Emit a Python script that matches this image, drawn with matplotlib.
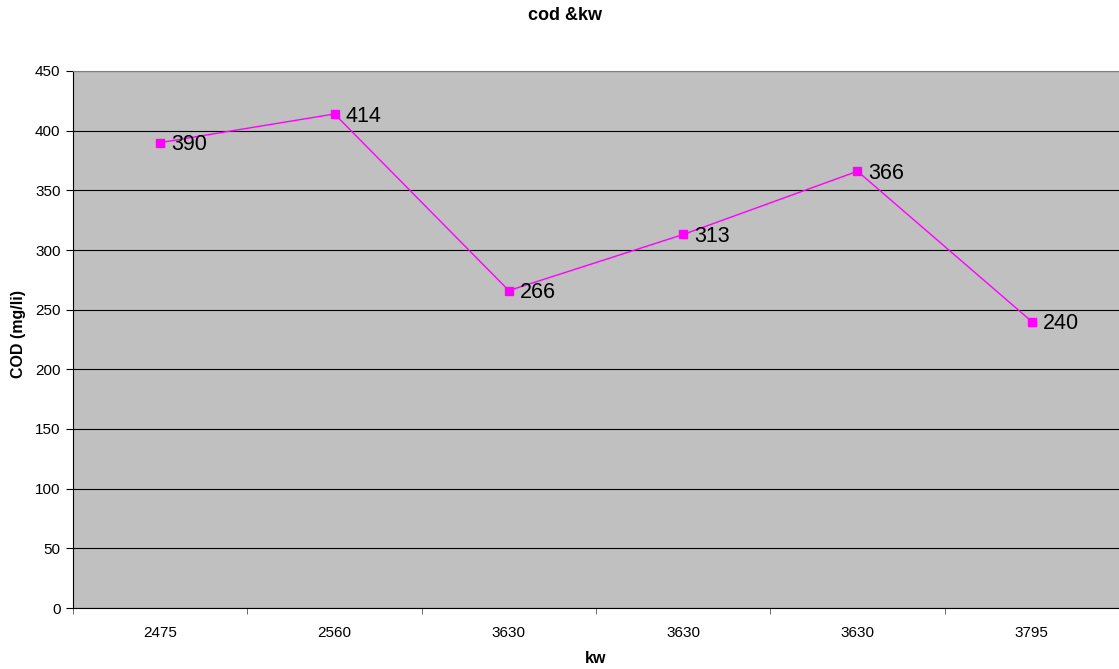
import matplotlib.pyplot as plt
from matplotlib.ticker import MultipleLocator

# data
categories = ["2475", "2560", "3630", "3630", "3630", "3795"]
cod = [390, 414, 266, 313, 366, 240]

plt.rcParams['font.family'] = ['Liberation Sans', 'DejaVu Sans']

fig = plt.figure(figsize=(11.19, 6.69), dpi=100)
ax = fig.add_axes([73 / 1119, 61 / 669, 1 - 73 / 1119, 537 / 669])
ax.set_facecolor('#c0c0c0')

x = list(range(len(categories)))
ax.plot(x, cod, color='#ff00ff', linewidth=1, marker='s', markersize=6,
        markerfacecolor='#ff00ff', markeredgecolor='#ff00ff', zorder=3)

for xi, v in zip(x, cod):
    ax.annotate(str(v), (xi, v), xytext=(8, -1.5), textcoords='offset points',
                ha='left', va='center', fontsize=15.5, color='black')

ax.set_xlim(-0.5, len(categories) - 0.5)
ax.set_ylim(0, 450)
ax.yaxis.set_major_locator(MultipleLocator(50))
ax.grid(axis='y', color='black', linewidth=0.8)
ax.set_axisbelow(True)

ax.set_xticks(x)
ax.set_xticklabels(categories)
ax.set_xticks([i - 0.5 for i in range(len(categories) + 1)], minor=True)
ax.tick_params(axis='x', which='major', length=0, pad=13, labelsize=11)
ax.tick_params(axis='x', which='minor', length=4, direction='out', color='#555555')
ax.tick_params(axis='y', length=5, direction='out', labelsize=11, pad=4)

ax.spines['top'].set_color('#808080')
ax.spines['right'].set_visible(False)
ax.spines['left'].set_color('black')
ax.spines['bottom'].set_color('black')

ax.set_xlabel('kw', fontsize=11.5, fontweight='bold', labelpad=8)
ax.set_ylabel('COD (mg/li)', fontsize=11.5, fontweight='bold')
ax.yaxis.set_label_coords(-0.045, 0.51)
fig.text(565 / 1119, 1 - 15 / 669, 'cod &kw', fontsize=13, fontweight='bold',
         ha='center', va='center')

fig.savefig('out.png', dpi=100)
